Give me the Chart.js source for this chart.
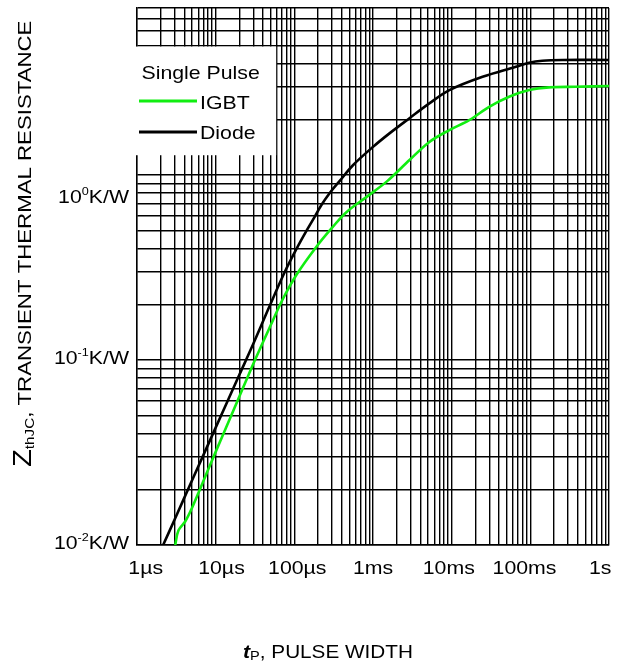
<!DOCTYPE html>
<html lang="en">
<head>
    <meta charset="UTF-8">
    <title>Transient Thermal Resistance</title>
    <script src="https://cdn.jsdelivr.net/npm/chart.js@4.4.1/dist/chart.umd.min.js"></script>
    <style>
        body { margin: 0; background: white; }
        #wrap { width: 641px; height: 666px; }
    </style>
</head>
<body>
<div id="wrap"><canvas id="myChart" width="641" height="666"></canvas></div>

<script>
    // pulse width (s) and Zth (K/W)
    var diodeT = [2.15e-6, 3e-6, 5e-6, 10e-6, 20e-6, 30e-6, 46.5e-6, 75.8e-6,
                  107e-6, 143e-6, 182e-6, 221e-6, 282e-6, 378e-6, 556e-6, 1.0e-3, 1.62e-3, 2.91e-3, 5.2e-3,
                  9.35e-3, 24.7e-3, 65.5e-3, 96.5e-3, 0.142, 0.255, 1.0];
    var diodeZ = [0.01, 0.0137, 0.0223, 0.0431, 0.0832, 0.122, 0.188, 0.30,
                  0.40, 0.50, 0.596, 0.689, 0.80, 0.93, 1.13, 1.42, 1.68, 2.03, 2.44,
                  2.88, 3.4, 3.85, 4.05, 4.15, 4.19, 4.19];
    var igbtT = [3.06e-6, 3.37e-6, 4.1e-6, 4.98e-6, 6.34e-6, 9.35e-6, 11.9e-6, 15.2e-6, 19.4e-6, 24.8e-6,
                 31.6e-6, 48.9e-6, 72e-6, 107e-6, 191e-6, 310e-6, 459e-6, 822e-6, 1.53e-3, 2.91e-3,
                 5.21e-3, 9.35e-3, 16.7e-3, 30e-3, 53.8e-3, 96.6e-3, 0.173, 0.378, 1.0];
    var igbtZ = [0.01, 0.012, 0.0134, 0.0158, 0.0201, 0.0298, 0.0379, 0.0483, 0.0616, 0.0787,
                 0.1, 0.151, 0.215, 0.29, 0.41, 0.526, 0.63, 0.76, 0.93, 1.205,
                 1.51, 1.75, 1.98, 2.34, 2.65, 2.88, 2.98, 3.0, 3.03];

    var xDecades = [1e-6, 1e-5, 1e-4, 1e-3, 1e-2, 1e-1, 1];
    var xTickLabels = ["1µs", "10µs", "100µs", "1ms", "10ms", "100ms", "1s"];
    var yDecades = [0.01, 0.1, 1];
    var yTickExp = ["-2", "-1", "0"];
    var xMin = 1e-6, xMax = 1, yMin = 0.01, yMax = 8;

    // 1..9 lines in every decade
    function gridValues(decades, max) {
      var out = [];
      decades.forEach(function (d) {
        for (var m = 1; m <= 9; m++) {
          var v = +(d * m).toPrecision(6);
          if (v <= max) out.push(v);
        }
      });
      return out;
    }
    var xGrid = gridValues(xDecades, xMax);
    var yGrid = gridValues(yDecades, yMax);

    var SX = 1.15; // the original lettering is wider than Arial
    var FONT = '18.5px "Liberation Sans", Arial, sans-serif';
    var SUP = '11px "Liberation Sans", Arial, sans-serif';

    function drawRich(ctx, parts, x, y, align, sx) {
      sx = sx || SX;
      var w = 0;
      parts.forEach(function (p) { ctx.font = p[1]; w += ctx.measureText(p[0]).width * sx; });
      var cx = align === 'right' ? x - w : align === 'center' ? x - w / 2 : x;
      parts.forEach(function (p) {
        ctx.font = p[1];
        ctx.save();
        ctx.translate(cx, y + (p[2] || 0));
        ctx.scale(sx, 1);
        ctx.fillText(p[0], 0, 0);
        ctx.restore();
        cx += ctx.measureText(p[0]).width * sx;
      });
    }

    var textPlugin = {
      id: 'texts',
      beforeDatasetsDraw: function (chart) {
        // white legend box over the grid
        var ctx = chart.ctx, xs = chart.scales.x, ys = chart.scales.y;
        var l = chart.chartArea.left - 1;
        var r = xs.getPixelForValue(60e-6) - 0.7;
        var t = ys.getPixelForValue(5) + 0.8;
        var b = ys.getPixelForValue(1.28);
        ctx.save();
        ctx.fillStyle = '#fff';
        ctx.fillRect(l, t, r - l, b - t);
        ctx.restore();
      },
      afterDraw: function (chart) {
        var ctx = chart.ctx, xs = chart.scales.x, ys = chart.scales.y;
        ctx.save();
        ctx.fillStyle = '#000';
        ctx.textBaseline = 'alphabetic';

        // the original spreads its decade labels a little tighter than the grid
        var mid = (xs.left + xs.right) / 2;
        xDecades.forEach(function (v, i) {
          var px = xs.getPixelForValue(v);
          drawRich(ctx, [[xTickLabels[i], FONT]], mid + (px - mid) * 0.963, 574, 'center');
        });
        yDecades.forEach(function (v, i) {
          // the 10^0 label sits lower than its line in the original
          var dy = v === 1 ? 24 : 0;
          drawRich(ctx, [["10", FONT], [yTickExp[i], SUP, -8], ["K/W", FONT]],
                   129, ys.getPixelForValue(v) + 3.5 + dy, 'right');
        });

        // x title
        drawRich(ctx, [["t", 'italic bold 19px "Liberation Sans", Arial, sans-serif'],
                       ["P", '13px "Liberation Sans", Arial, sans-serif', 2],
                       [", PULSE WIDTH", FONT]], 243, 658, 'left', 1.12);

        // y title
        ctx.save();
        ctx.translate(31, 467);
        ctx.rotate(-Math.PI / 2);
        drawRich(ctx, [["Z", '25px "Liberation Sans", Arial, sans-serif'],
                       ["thJC", '13px "Liberation Sans", Arial, sans-serif', 3],
                       [", TRANSIENT THERMAL RESISTANCE", '19px "Liberation Sans", Arial, sans-serif']],
                 0, 0, 'left', 1.17);
        ctx.restore();

        // legend
        drawRich(ctx, [["Single Pulse", FONT]], 141.5, 78.5, 'left');
        ctx.lineWidth = 3;
        ctx.strokeStyle = '#11ee11';
        ctx.beginPath(); ctx.moveTo(139, 101); ctx.lineTo(197, 101); ctx.stroke();
        ctx.strokeStyle = '#000';
        ctx.beginPath(); ctx.moveTo(139, 132); ctx.lineTo(197, 132); ctx.stroke();
        drawRich(ctx, [["IGBT", FONT]], 200, 109, 'left');
        drawRich(ctx, [["Diode", FONT]], 200, 138.5, 'left');
        ctx.restore();
      }
    };

    function toPoints(ts, zs) {
      return ts.map(function (t, i) { return { x: t, y: zs[i] }; });
    }

    var ctx = document.getElementById('myChart').getContext('2d');
    var myChart = new Chart(ctx, {
      type: 'line',
      data: {
        datasets: [{
          label: 'IGBT',
          data: toPoints(igbtT, igbtZ),
          borderColor: '#11ee11',
          borderWidth: 2.6,
          pointRadius: 0,
          tension: 0.35
        }, {
          label: 'Diode',
          data: toPoints(diodeT, diodeZ),
          borderColor: '#000',
          borderWidth: 2.6,
          pointRadius: 0,
          tension: 0.35
        }]
      },
      options: {
        responsive: false,
        animation: false,
        layout: { padding: { left: 0, right: 32, top: 8, bottom: 121 } },
        plugins: { legend: { display: false }, tooltip: { enabled: false } },
        scales: {
          x: {
            type: 'logarithmic',
            min: xMin, max: xMax,
            afterBuildTicks: function (s) { s.ticks = xGrid.map(function (v) { return { value: v }; }); },
            afterFit: function (s) { s.height = 0; },
            ticks: { display: false },
            grid: { color: '#000', lineWidth: 1.4, drawTicks: false },
            border: { color: '#000', width: 1.4 }
          },
          y: {
            type: 'logarithmic',
            min: yMin, max: yMax,
            afterBuildTicks: function (s) { s.ticks = yGrid.map(function (v) { return { value: v }; }); },
            afterFit: function (s) { s.width = 137; },
            ticks: { display: false },
            grid: { color: '#000', lineWidth: 1.4, drawTicks: false },
            border: { color: '#000', width: 1.4 }
          }
        }
      },
      plugins: [textPlugin]
    });
</script>
</body>
</html>
